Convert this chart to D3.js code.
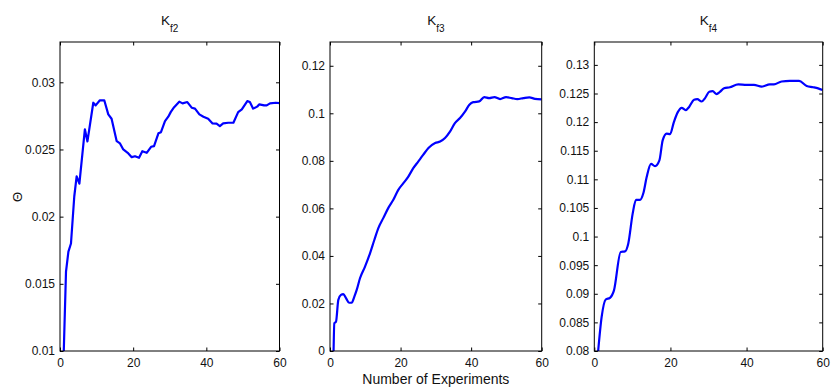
<!DOCTYPE html>
<html>
<head>
<meta charset="utf-8">
<script src="https://cdn.jsdelivr.net/npm/d3@7"></script>
<style>
  body { margin: 0; background: #fff; }
  svg { display: block; font-family: "Liberation Sans", Arial, sans-serif; }
  .tick text { fill: #111; font-size: 12px; }
  .tick line { stroke: #000; }
</style>
</head>
<body>
<div id="chart"></div>
<script>
// shared x axis (experiment number)
const xTicks = [0, 20, 40, 60];

// K_f2
const kf2X = [1, 1.64, 2.3, 3.0, 3.9, 4.55, 5.3, 6.8, 7.5, 9.1, 9.75, 10.9, 12.1, 13.2, 14.1, 15.5, 16.4, 17.3, 18.5, 19.6,
  20.5, 21.6, 22.5, 23.7, 24.9, 25.7, 26.9, 27.6, 28.7, 29.6, 30.3, 31.2, 32.6, 33.5, 34.8, 36, 36.9, 38.1, 39.2, 40.5,
  41.7, 42.8, 43.7, 44.6, 46, 47.4, 48.7, 49.7, 51.2, 51.9, 52.8, 53.9, 54.5, 55.8, 56.5, 57.4, 59, 60];
const kf2Y = [0.0097, 0.0159, 0.0174, 0.0180, 0.0215, 0.0230, 0.02246, 0.0265, 0.0256, 0.02848, 0.02828, 0.02866, 0.02866, 0.02761, 0.02729, 0.02562, 0.02545, 0.0250, 0.02475, 0.02443,
  0.0245, 0.02438, 0.02487, 0.02475, 0.0252, 0.02525, 0.0262, 0.02629, 0.02711, 0.02744, 0.0278, 0.02815, 0.02856, 0.02843, 0.02853, 0.02811, 0.02804, 0.02761, 0.02744, 0.02729,
  0.02694, 0.02692, 0.02674, 0.02694, 0.02699, 0.02699, 0.02778, 0.02799, 0.0286, 0.02853, 0.02804, 0.02819, 0.02836, 0.02828, 0.02828, 0.02843, 0.02848, 0.02845];
const kf2Ticks = [0.01, 0.015, 0.02, 0.025, 0.03];

// K_f3
const kf3X = [1, 1.23, 1.7, 2.36, 3.1, 3.77, 4.54, 5.39, 6.15, 6.9, 7.57, 8.5, 9.92, 11.34, 12.56, 13.7, 15.1, 16.5, 17.95, 19.36,
  20.8, 22.2, 23.6, 25, 26.4, 27.9, 29.8, 31.2, 32.6, 34, 35.4, 36.85, 38.3, 39.5, 40.6, 42.3, 43.7, 45.1, 46.6, 48.2,
  49.9, 51.5, 53.1, 54.8, 56.5, 58.1, 60];
const kf3Y = [-0.001, 0.0117, 0.0123, 0.0215, 0.0236, 0.0239, 0.0222, 0.0203, 0.0203, 0.0229, 0.0257, 0.0306, 0.0355, 0.0411, 0.0467, 0.0517, 0.0559, 0.0601, 0.0636, 0.0678,
  0.0706, 0.0734, 0.0769, 0.0797, 0.0825, 0.0854, 0.0875, 0.0881, 0.0896, 0.0923, 0.0959, 0.098, 0.1008, 0.1036, 0.1047, 0.105, 0.1068, 0.1064, 0.1068, 0.106,
  0.1068, 0.1064, 0.106, 0.1064, 0.1067, 0.1061, 0.1059];
const kf3Ticks = [0, 0.02, 0.04, 0.06, 0.08, 0.1, 0.12];

// K_f4
const kf4X = [1, 1.94, 3.0, 4.12, 5.17, 6.93, 8.06, 8.93, 10.08, 10.95, 12.0, 12.9, 13.76, 14.9, 15.95, 17.1, 17.96, 19.0, 19.9, 20.9,
  21.9, 22.96, 24.0, 24.95, 26.2, 27.05, 28.2, 29.1, 30.2, 31.1, 32.15, 33.0, 34.1, 35.6, 37.8, 40.0, 41.95, 43.97, 46.1, 47.2,
  49.2, 51.4, 53.8, 55.8, 57.5, 58.8, 60];
const kf4Y = [0.0799, 0.0860, 0.0890, 0.0893, 0.0906, 0.0973, 0.0974, 0.0988, 0.1040, 0.1064, 0.1064, 0.1076, 0.1104, 0.1127, 0.1123, 0.1133, 0.1168, 0.1180, 0.1179, 0.1200,
  0.1217, 0.1225, 0.1221, 0.1227, 0.1239, 0.1240, 0.1236, 0.1242, 0.1253, 0.1254, 0.1249, 0.1253, 0.1259, 0.1261, 0.1266, 0.1265, 0.1265, 0.1262, 0.1266, 0.1266,
  0.1271, 0.1272, 0.1272, 0.1263, 0.1261, 0.1259, 0.1256];
const kf4Ticks = [0.08, 0.085, 0.09, 0.095, 0.1, 0.105, 0.11, 0.115, 0.12, 0.125, 0.13];

const width = 831, height = 389;
const plotTop = 42, plotBottom = 351;
const tickLen = 3.5;

// one entry per subplot
const panels = [
  {sub: "f2", xs: kf2X, ys: kf2Y, ticks: kf2Ticks, yDomain: [0.01, 0.033], left: 60, right: 279.5, curve: d3.curveLinear},
  {sub: "f3", xs: kf3X, ys: kf3Y, ticks: kf3Ticks, yDomain: [0, 0.13], left: 330, right: 541.7, curve: d3.curveMonotoneX},
  {sub: "f4", xs: kf4X, ys: kf4Y, ticks: kf4Ticks, yDomain: [0.08, 0.134], left: 594.3, right: 822.7, curve: d3.curveMonotoneX}
];

const svg = d3.select("#chart").append("svg")
    .attr("width", width)
    .attr("height", height);

panels.forEach(function (p, i) {
    const w = p.right - p.left;
    const h = plotBottom - plotTop;
    const x = d3.scaleLinear().domain([0, 60]).range([0, w]);
    const y = d3.scaleLinear().domain(p.yDomain).range([h, 0]);

    const g = svg.append("g").attr("transform", `translate(${p.left},${plotTop})`);

    g.append("clipPath").attr("id", "clip" + i)
        .append("rect").attr("width", w).attr("height", h);

    // ticks point inward on all four sides, labels only bottom + left
    g.append("g")
        .attr("transform", `translate(0,${h})`)
        .call(d3.axisBottom(x).tickValues(xTicks).tickSizeInner(-tickLen).tickSizeOuter(0).tickPadding(7.5).tickFormat(d3.format("d")))
        .call(a => a.select(".domain").remove());
    g.append("g")
        .call(d3.axisTop(x).tickValues(xTicks).tickSizeInner(-tickLen).tickSizeOuter(0).tickFormat(""))
        .call(a => a.select(".domain").remove());
    g.append("g")
        .call(d3.axisLeft(y).tickValues(p.ticks).tickSizeInner(-tickLen).tickSizeOuter(0).tickPadding(5).tickFormat(d3.format("~g")))
        .call(a => a.select(".domain").remove());
    g.append("g")
        .attr("transform", `translate(${w},0)`)
        .call(d3.axisRight(y).tickValues(p.ticks).tickSizeInner(-tickLen).tickSizeOuter(0).tickFormat(""))
        .call(a => a.select(".domain").remove());
    g.selectAll("g").attr("font-family", null).attr("font-size", null);

    const line = d3.line()
        .x((d, k) => x(p.xs[k]))
        .y(d => y(d))
        .curve(p.curve);

    g.append("path")
        .datum(p.ys)
        .attr("clip-path", `url(#clip${i})`)
        .attr("fill", "none")
        .attr("stroke", "#0000ff")
        .attr("stroke-width", 2.2)
        .attr("stroke-linejoin", "round")
        .attr("d", line);

    g.append("rect")
        .attr("width", w)
        .attr("height", h)
        .attr("fill", "none")
        .attr("stroke", "#000")
        .attr("stroke-width", 1);

    // title K_fN
    const t = g.append("text")
        .attr("x", w / 2)
        .attr("y", 25 - plotTop)
        .attr("text-anchor", "middle")
        .attr("font-size", 13.5)
        .attr("fill", "#111");
    t.append("tspan").text("K");
    t.append("tspan").attr("dy", 7).attr("font-size", 10).text(p.sub);
});

// y label
svg.append("text")
    .attr("transform", "translate(22,197) rotate(-90)")
    .attr("text-anchor", "middle")
    .attr("font-size", 13)
    .attr("fill", "#111")
    .text("Θ");

// x label under the middle plot
svg.append("text")
    .attr("x", (panels[1].left + panels[1].right) / 2)
    .attr("y", 384)
    .attr("text-anchor", "middle")
    .attr("font-size", 14)
    .attr("fill", "#111")
    .text("Number of Experiments");
</script>
</body>
</html>
